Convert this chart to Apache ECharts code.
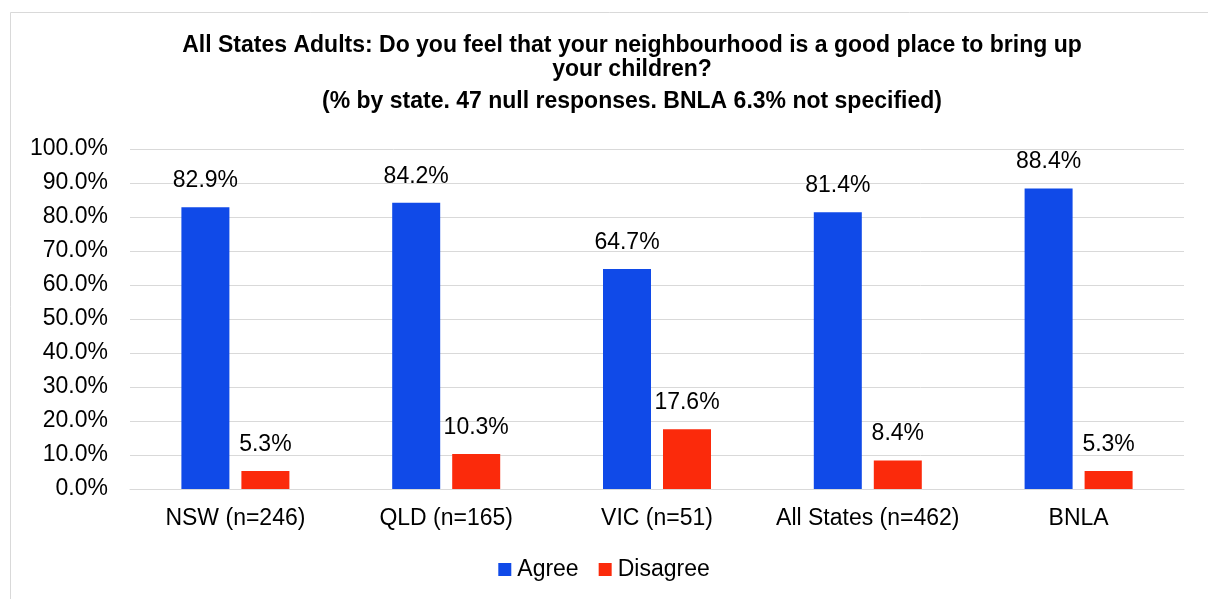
<!DOCTYPE html>
<html><head><meta charset="utf-8">
<script src="https://cdn.jsdelivr.net/npm/echarts@6/dist/echarts.min.js"></script>
<style>html,body{margin:0;padding:0;background:#fff}#c{width:1208px;height:599px}</style>
</head><body><div id="c"></div>
<script>
const categories = ['NSW (n=246)', 'QLD (n=165)', 'VIC (n=51)', 'All States (n=462)', 'BNLA'];
const agree = [82.9, 84.2, 64.7, 81.4, 88.4];
const disagree = [5.3, 10.3, 17.6, 8.4, 5.3];
const seriesNames = ['Agree', 'Disagree'];

const chart = echarts.init(document.getElementById('c'));
const font = 'Liberation Sans, Arial, sans-serif';
const fs = 23;
chart.setOption({
  backgroundColor: '#fff',
  graphic: [{type:'rect', shape:{x:10.5,y:12.5,width:1200,height:600}, style:{fill:'none', stroke:'#d9d9d9', lineWidth:1}}],
  title: [{
    text: 'All States Adults: Do you feel that your neighbourhood is a good place to bring up\nyour children?',
    left: 627, textAlign: 'center', top: 29,
    textStyle: {fontFamily: font, fontSize: 23, fontWeight: 'bold', color: '#000', lineHeight: 24}
  },{
    text: '(% by state. 47 null responses. BNLA 6.3% not specified)',
    left: 627, textAlign: 'center', top: 85,
    textStyle: {fontFamily: font, fontSize: 23, fontWeight: 'bold', color: '#000'}
  }],
  legend: {
    bottom: 13, left: 'center',
    itemWidth: 13, itemHeight: 13, itemGap: 20,
    icon: 'rect',
    textStyle: {fontFamily: font, fontSize: fs, color: '#000', padding: [0,0,0,1]},
    data: seriesNames
  },
  grid: {left: 130, right: 24, top: 149, bottom: 110},
  xAxis: {
    type: 'category', data: categories,
    axisLine: {lineStyle: {color: '#d9d9d9'}},
    axisTick: {show: false},
    axisLabel: {fontFamily: font, fontSize: fs, color: '#000', margin: 18, interval: 0}
  },
  yAxis: {
    type: 'value', min: 0, max: 100, interval: 10,
    axisLine: {show: false}, axisTick: {show: false},
    splitLine: {lineStyle: {color: '#d9d9d9'}},
    axisLabel: {fontFamily: font, fontSize: fs, color: '#000', margin: 22,
      formatter: v => v.toFixed(1) + '%'}
  },
  series: [{
    name: seriesNames[0], type: 'bar', data: agree, barWidth: 48, barGap: '25%',
    itemStyle: {color: '#104ae8'},
    label: {show: true, position: 'top', distance: 15, fontFamily: font, fontSize: fs, color: '#000',
      formatter: p => p.value.toFixed(1) + '%'}
  },{
    name: seriesNames[1], type: 'bar', data: disagree, barWidth: 48,
    itemStyle: {color: '#fb2a0b'},
    label: {show: true, position: 'top', distance: 15, fontFamily: font, fontSize: fs, color: '#000',
      formatter: p => p.value.toFixed(1) + '%'}
  }]
});
</script></body></html>
